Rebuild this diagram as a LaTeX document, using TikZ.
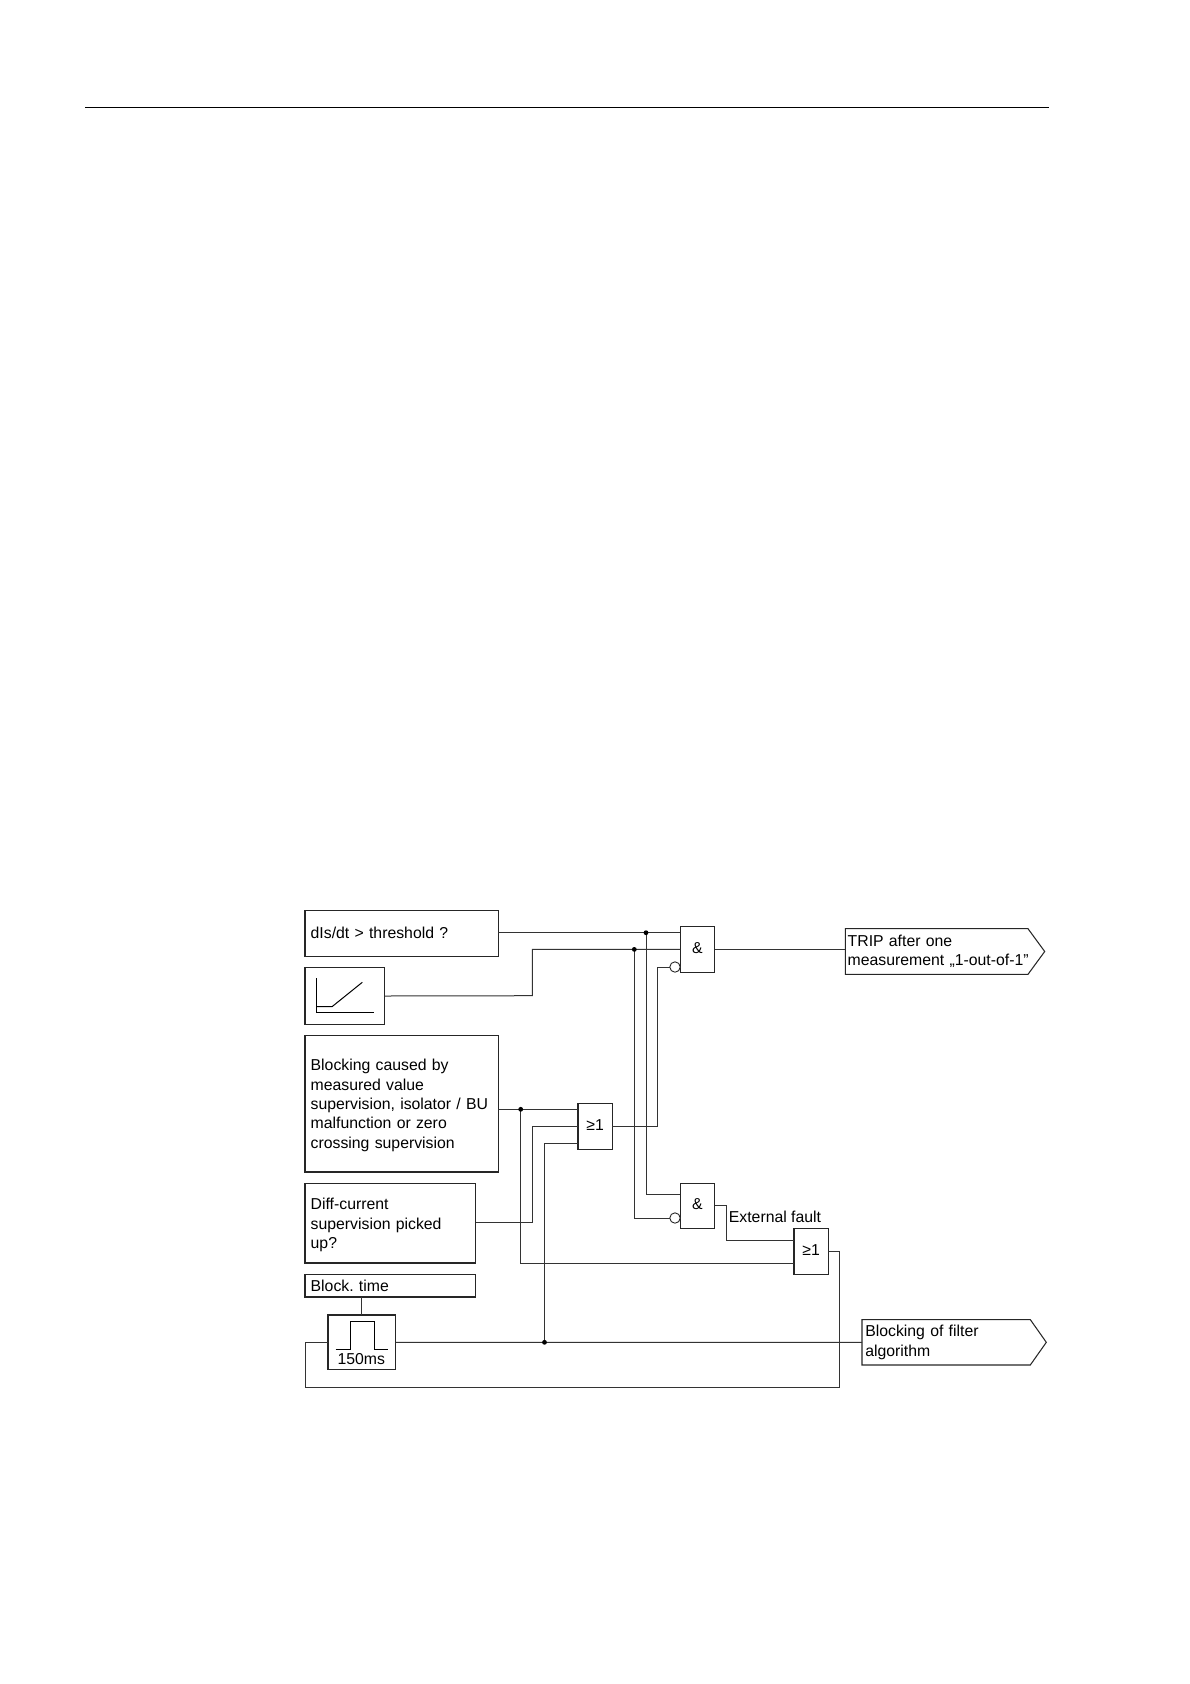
\documentclass[tikz,border=0pt]{standalone}
\usepackage{fontspec}
\setmainfont{Liberation Sans}

\tikzset{
  wire/.style={line width=1pt, color=black!80},
  txtbox/.style={draw=black!85, line width=1.05pt, anchor=north west, inner sep=0pt, outer sep=0pt, align=left},
  gatebox/.style={draw=black!85, line width=1.05pt, minimum width=34.4pt, minimum height=45.8pt, inner sep=0pt, outer sep=0pt},
  outbox/.style={anchor=west, inner sep=0pt, outer sep=0pt, align=left},
  outline/.style={draw=black!85, line width=1.05pt},
  negdot/.style={circle, draw=black!85, fill=white, line width=0.9pt, minimum size=10.4pt, inner sep=0pt, outer sep=0pt},
  plain/.style={inner sep=0pt, outer sep=0pt, align=left},
}

\begin{document}
\frenchspacing
\begin{tikzpicture}[x=1pt, y=-1pt, line cap=butt, line join=miter, font=\fontsize{15.8}{19.3}\selectfont]

  %% ---- page rule ----
  \coordinate (ruleleft) at (85,107.5);
  \coordinate (ruleright) at (1048.5,107.5);
  \draw[line width=1.2pt] (ruleleft) -- (ruleright);

  %% ---- input boxes ----
  \node[txtbox, minimum width=193.3pt, minimum height=46pt, text width=193.3pt] (threshbox) at (305,910.3) {\hspace*{5.7pt}dIs/dt > threshold ?};
  \node[txtbox, minimum width=79.7pt, minimum height=57.4pt] (rampbox) at (305,967.3) {};
  \node[txtbox, minimum width=193.3pt, minimum height=136.7pt, text width=193.3pt] (blockbox) at (305,1035.3) {\rule{0pt}{15pt}\hspace*{5.7pt}Blocking caused by\\\hspace*{5.7pt}measured value\\\hspace*{5.7pt}supervision, isolator / BU\\\hspace*{5.7pt}malfunction or zero\\\hspace*{5.7pt}crossing supervision};
  \node[txtbox, minimum width=170.7pt, minimum height=79.7pt, text width=170.7pt] (diffbox) at (305,1183.3) {\rule{0pt}{15pt}\hspace*{5.7pt}Diff-current\\\hspace*{5.7pt}supervision picked\\\hspace*{5.7pt}up?};
  \node[txtbox, minimum width=170.7pt, minimum height=22.7pt, text width=170.7pt] (timebox) at (305,1274.3) {\hspace*{5.7pt}Block. time};
  \node[txtbox, minimum width=67.7pt, minimum height=54.7pt] (pulsebox) at (328,1315) {};
  \node[plain, anchor=south] (pulsetext) at ([xshift=-0.5pt,yshift=5.5pt]pulsebox.south) {150ms};

  %% ---- gates ----
  \node[gatebox] (andone) at (697.5,949.4) {\raisebox{3pt}{\&}};
  \node[gatebox] (orone) at (595.2,1126.5) {\raisebox{3pt}{≥1}};
  \node[gatebox] (andtwo) at (697.5,1206) {\raisebox{3pt}{\&}};
  \node[gatebox] (ortwo) at (811.2,1251.5) {\raisebox{3pt}{≥1}};
  \node[negdot] (negone) at (675,967) {};
  \node[negdot] (negtwo) at (675,1218) {};
  \node[plain] (faultlabel) at (775,1216.7) {External fault};

  %% ---- outputs ----
  \node[outbox, minimum width=199.4pt, minimum height=45.6pt, text width=199.4pt] (tripbox) at (845.3,951.5) {\hspace*{2.4pt}TRIP after one\\\hspace*{2.4pt}measurement „1-out-of-1”};
  \node[outbox, minimum width=184.3pt, minimum height=45.4pt, text width=184.3pt] (filterbox) at (862,1342.3) {\hspace*{3.3pt}Blocking of filter\\\hspace*{3.3pt}algorithm};
  \draw[outline] (tripbox.north west) -- ([xshift=-16.7pt]tripbox.north east) -- (tripbox.east) -- ([xshift=-16.7pt]tripbox.south east) -- (tripbox.south west) -- cycle;
  \draw[outline] (filterbox.north west) -- ([xshift=-16pt]filterbox.north east) -- (filterbox.east) -- ([xshift=-16pt]filterbox.south east) -- (filterbox.south west) -- cycle;

  %% ---- bends and junctions ----
  \coordinate (junctop) at (646,932.7);
  \coordinate (junclow) at (634.3,949.4);
  \coordinate (juncblock) at (520.7,1109.3);
  \coordinate (juncpulse) at (544.5,1342.3);
  \coordinate (rampbend) at (532.3,995.7);
  \coordinate (negbend) at (657.3,967);
  \coordinate (feedleft) at (305,1387.3);
  \coordinate (feedright) at (839.7,1387.3);
  \coordinate (midbend) at (532.3,1222.3);
  \coordinate (faultbend) at (726,1205.7);

  %% ---- connectors ----
  \draw[wire] (threshbox.east |- junctop) -- (junctop) -- (junctop -| andone.west);
  \draw[wire] (rampbox.east) -- (rampbend) |- (andone.west);
  \draw[wire] (andone.east) -- (andone.east -| tripbox.west);
  \draw[wire] (orone.east) -| (negbend) -- (negone.west);
  \draw[wire] (junctop) |- ([yshift=11.7pt]andtwo.west);
  \draw[wire] (junclow) |- (negtwo.west);
  \draw[wire] (blockbox.east |- juncblock) -- (juncblock) -- (juncblock -| orone.west);
  \draw[wire] (juncblock) |- ([yshift=-11.5pt]ortwo.west);
  \draw[wire] (diffbox.east |- midbend) -- (midbend) |- (orone.west);
  \draw[wire] (juncpulse) |- ([yshift=-16.8pt]orone.west);
  \draw[wire] (pulsebox.east) -- (juncpulse) -- (filterbox.west);
  \draw[wire] (pulsebox.west) -- (pulsebox.west -| feedleft) -- (feedleft) -- (feedright) |- (ortwo.east);
  \draw[wire] (pulsebox.north) -- (pulsebox.north |- timebox.south);
  \draw[wire] (andtwo.east |- faultbend) -- (faultbend) |- ([yshift=11.2pt]ortwo.west);

  %% ---- junction dots ----
  \foreach \dotname in {junctop,junclow,juncblock,juncpulse}
    \fill (\dotname) circle (2.4);

  %% ---- glyphs inside the boxes ----
  \draw[line width=1pt] (316.3,978.3) -- (316.3,1012.7) -- (373.7,1012.7);
  \draw[line width=1pt] (316.3,1006.7) -- (332,1006.7) -- (362.3,982.3);
  \draw[line width=1pt] (335.7,1349) -- (350.7,1349) -- (350.7,1321.7) -- (374,1321.7) -- (374,1349) -- (388.3,1349);

  \pgfresetboundingbox
  \path[use as bounding box] (0,0) rectangle (1190,1684);
\end{tikzpicture}
\end{document}
